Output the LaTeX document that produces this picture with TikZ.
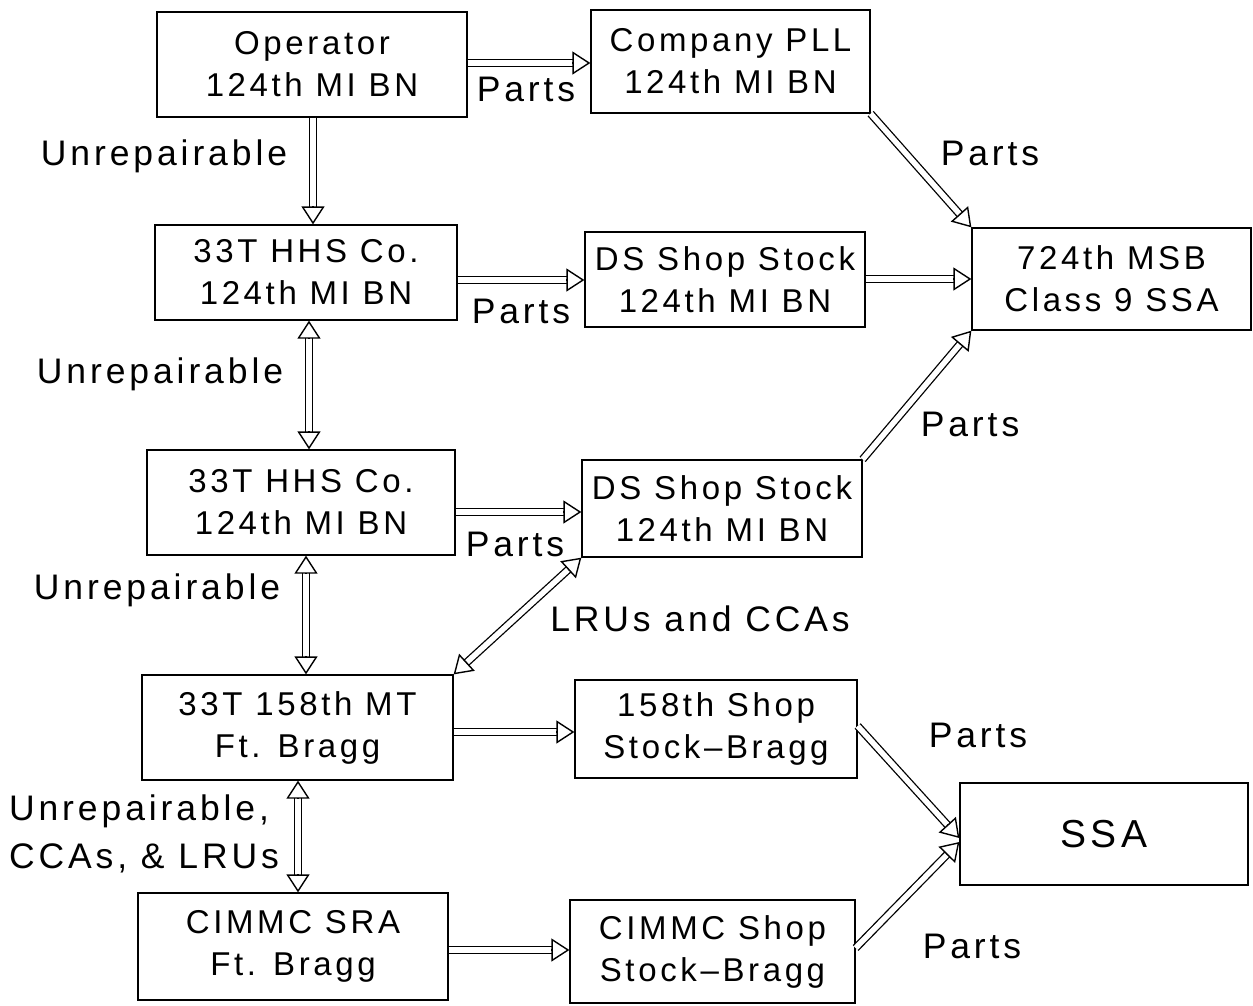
\documentclass[tikz,border=0pt]{standalone}
\usepackage{fontspec}
\setmainfont{Liberation Sans}[LetterSpace=11]
\usetikzlibrary{arrows.meta,calc}
\tikzset{
 box/.style={draw, line width=1.3pt, align=center, inner sep=0pt, font=\fontsize{33}{42}\selectfont},
 lbl/.style={inner sep=0pt, font=\fontsize{35.5}{48}\selectfont},
 shaft/.style={draw, line width=1.3pt, double, double distance=5.5pt},
 head/.style={draw, line width=1.4pt, -{Triangle[open,length=18pt,width=23pt]}},
}
\newcommand\oarrow[2]{\draw[shaft, shorten >=17pt] (#1) -- (#2);
  \draw[head] ($(#2)!18pt!(#1)$) -- (#2);}
\newcommand\tarrow[2]{\draw[shaft, shorten >=17pt, shorten <=17pt] (#1) -- (#2);
  \draw[head] ($(#2)!18pt!(#1)$) -- (#2);
  \draw[head] ($(#1)!18pt!(#2)$) -- (#1);}
\begin{document}
\begin{tikzpicture}[x=1pt,y=-1pt]
\useasboundingbox[fill=white] (0,0) rectangle (1253,1005);
% boxes
\node[box, minimum width=310pt, minimum height=105pt] (op) at (312,64.5) {Operator\\124th MI BN};
\node[box, minimum width=279pt, minimum height=103pt] (pll) at (730.5,61.5) {Company PLL\\124th MI BN};
\node[box, minimum width=302pt, minimum height=95pt] (hhs1) at (306,272.5) {33T HHS Co.\\124th MI BN};
\node[box, minimum width=280pt, minimum height=95pt] (ds1) at (725,279.5) {DS Shop Stock\\124th MI BN};
\node[box, minimum width=279pt, minimum height=102pt] (msb) at (1111.5,279) {724th MSB\\Class 9 SSA};
\node[box, minimum width=308pt, minimum height=105pt] (hhs2) at (301,502.5) {33T HHS Co.\\124th MI BN};
\node[box, minimum width=280pt, minimum height=97pt] (ds2) at (722,508.5) {DS Shop Stock\\124th MI BN};
\node[box, minimum width=311pt, minimum height=105pt] (mt) at (297.5,727.5) {33T 158th MT\\Ft. Bragg};
\node[box, minimum width=282pt, minimum height=98pt] (s158) at (716,729) {158th Shop\\Stock--Bragg};
\node[box, minimum width=288pt, minimum height=102pt, font=\fontsize{39}{50}\selectfont] (ssa) at (1104,834) {SSA};
\node[box, minimum width=310pt, minimum height=107pt] (sra) at (293,946.5) {CIMMC SRA\\Ft. Bragg};
\node[box, minimum width=285pt, minimum height=103pt] (cshop) at (712.5,951.5) {CIMMC Shop\\Stock--Bragg};
% labels
\node[lbl] (l1) at (526,89) {Parts};
\node[lbl] (l2) at (164,156) {Unrepairable};
\node[lbl] (l3) at (990,153) {Parts};
\node[lbl] (l4) at (521,311) {Parts};
\node[lbl] (l5) at (160,374) {Unrepairable};
\node[lbl] (l6) at (970,424) {Parts};
\node[lbl] (l7) at (515,544) {Parts};
\node[lbl] (l8) at (157,590) {Unrepairable};
\node[lbl] (l9) at (700,619) {LRUs and CCAs};
\node[lbl] (l10) at (978,735) {Parts};
\node[lbl, align=left] (l11) at (144,834) {Unrepairable,\\CCAs, \& LRUs};
\node[lbl] (l12) at (972,946) {Parts};
% connector end points
\coordinate (a1s) at (op.east |- 0,63);
\coordinate (a1e) at (pll.west |- 0,63);
\coordinate (a2s) at (313,0 |- op.south);
\coordinate (a2e) at (313,0 |- hhs1.north);
\coordinate (a3s) at (hhs1.east |- 0,280);
\coordinate (a3e) at (ds1.west |- 0,280);
\coordinate (a4e) at (msb.west |- 0,279);
\coordinate (a5s) at (309,0 |- hhs1.south);
\coordinate (a5e) at (309,0 |- hhs2.north);
\coordinate (a6s) at (hhs2.east |- 0,512);
\coordinate (a6e) at (ds2.west |- 0,512);
\coordinate (a7s) at (306,0 |- hhs2.south);
\coordinate (a7e) at (306,0 |- mt.north);
\coordinate (a8s) at (mt.east |- 0,732);
\coordinate (a8e) at (s158.west |- 0,732);
\coordinate (a9s) at (s158.east |- 0,726);
\coordinate (a9e) at (ssa.west |- 0,838);
\coordinate (a10s) at (298,0 |- mt.south);
\coordinate (a10e) at (298,0 |- sra.north);
\coordinate (a11s) at (sra.east |- 0,950);
\coordinate (a11e) at (cshop.west |- 0,950);
\coordinate (a12s) at (cshop.east |- 0,948);
\coordinate (a12e) at (ssa.west |- 0,842);
\coordinate (a13s) at (ds1.east |- 0,279);
% connectors
\oarrow{a1s}{a1e}
\oarrow{a2s}{a2e}
\oarrow{pll.south east}{msb.north west}
\oarrow{a3s}{a3e}
\oarrow{a13s}{a4e}
\tarrow{a5s}{a5e}
\oarrow{a6s}{a6e}
\oarrow{ds2.north east}{msb.south west}
\tarrow{a7s}{a7e}
\tarrow{mt.north east}{ds2.south west}
\oarrow{a8s}{a8e}
\oarrow{a9s}{a9e}
\tarrow{a10s}{a10e}
\oarrow{a11s}{a11e}
\oarrow{a12s}{a12e}
\end{tikzpicture}
\end{document}
